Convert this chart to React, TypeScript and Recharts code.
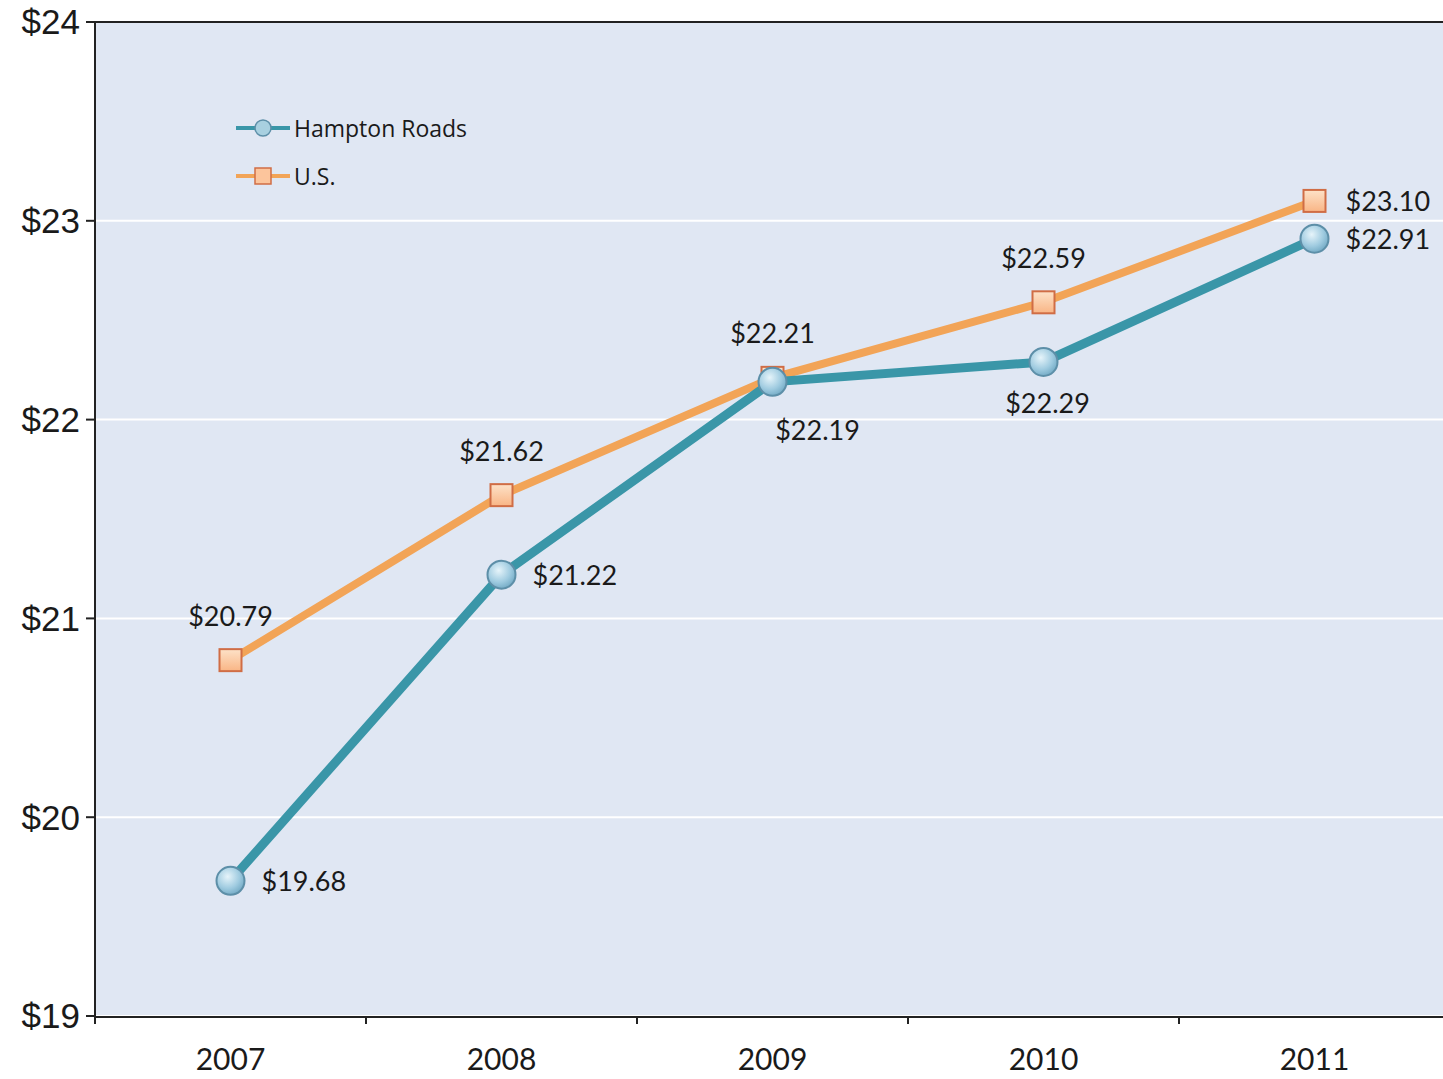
import React from "react";
import {
  LineChart,
  Line,
  XAxis,
  YAxis,
  CartesianGrid,
  Legend,
  ReferenceLine,
  LabelList,
} from "recharts";

const years = ["2007", "2008", "2009", "2010", "2011"];
const hamptonRoads = [19.68, 21.22, 22.19, 22.29, 22.91];
const us = [20.79, 21.62, 22.21, 22.59, 23.1];
const yTicks = [19, 20, 21, 22, 23, 24];

// where each value label sits relative to its point
const hamptonLabelSide = ["right", "right", "belowRight", "below", "right"];
const usLabelSide = ["above", "above", "above", "above", "right"];

// years sit in the middle of equal slots, slot edges carry the tick marks
const data = years.map((year, i) => ({
  year,
  idx: i + 0.5,
  hampton: hamptonRoads[i],
  us: us[i],
}));
const yearTicks = data.map((d) => d.idx);
const slotEdges = [0, 1, 2, 3, 4, 5];

const TEAL = "#3a96a8";
const ORANGE = "#f2a457";
const LABEL_FONT = "Lato, 'Open Sans', sans-serif";

function CircleDot(props: any) {
  const { cx, cy } = props;
  if (cx == null || cy == null) return null;
  return (
    <circle cx={cx} cy={cy} r={14} fill="url(#hrDot)" stroke="#5d8fa8" strokeWidth={2} />
  );
}

function SquareDot(props: any) {
  const { cx, cy } = props;
  if (cx == null || cy == null) return null;
  const s = 22;
  return (
    <rect
      x={cx - s / 2}
      y={cy - s / 2}
      width={s}
      height={s}
      fill="url(#usDot)"
      stroke="#d06d45"
      strokeWidth={2}
    />
  );
}

function makeLabel(sides: string[]) {
  return (props: any) => {
    const { x, y, value, index } = props;
    const side = sides[index];
    let dx = 0;
    let dy = 0;
    let anchor: "start" | "middle" = "middle";
    if (side === "right") {
      dx = 31;
      anchor = "start";
    } else if (side === "above") {
      dy = -45;
    } else if (side === "below") {
      dx = 4;
      dy = 41;
    } else if (side === "belowRight") {
      dx = 45;
      dy = 48;
    }
    return (
      <text
        x={x + dx}
        y={y + dy}
        textAnchor={anchor}
        dominantBaseline="central"
        fontFamily={LABEL_FONT}
        fontSize={27}
        fill="#1a1a1a"
      >
        {`$${Number(value).toFixed(2)}`}
      </text>
    );
  };
}

function LegendContent() {
  const rows = [
    { name: "Hampton Roads", color: TEAL, marker: "circle" },
    { name: "U.S.", color: ORANGE, marker: "square" },
  ];
  return (
    <div style={{ fontFamily: "'Open Sans', sans-serif", fontSize: 23, color: "#1a1a1a" }}>
      {rows.map((r) => (
        <div key={r.name} style={{ display: "flex", alignItems: "center", height: 48 }}>
          <svg width={58} height={24} style={{ marginRight: 2 }}>
            <line x1={2} y1={12} x2={56} y2={12} stroke={r.color} strokeWidth={4} />
            {r.marker === "circle" ? (
              <circle cx={29} cy={12} r={8} fill="#a8d0e0" stroke="#5d8fa8" strokeWidth={1.5} />
            ) : (
              <rect x={21} y={4} width={16} height={16} fill="#fcc59c" stroke="#d06d45" strokeWidth={1.5} />
            )}
          </svg>
          <span>{r.name}</span>
        </div>
      ))}
    </div>
  );
}

const NoTick = () => <g />;

export default function App() {
  return (
    <div style={{ position: "absolute", left: 0, top: 0, width: 1443, height: 1079, overflow: "hidden", background: "#fff" }}>
      <LineChart
        width={1460}
        height={1079}
        data={data}
        margin={{ top: 22, right: 10, bottom: 0, left: 0 }}
      >
        <defs>
          <radialGradient id="hrDot" cx="40%" cy="35%" r="70%">
            <stop offset="0%" stopColor="#e6f4fa" />
            <stop offset="60%" stopColor="#9fcbe0" />
            <stop offset="100%" stopColor="#6fa7c2" />
          </radialGradient>
          <linearGradient id="usDot" x1="0" y1="0" x2="0" y2="1">
            <stop offset="0%" stopColor="#fde2c8" />
            <stop offset="100%" stopColor="#f9b585" />
          </linearGradient>
        </defs>
        <CartesianGrid
          xAxisId="main"
          vertical={false}
          stroke="#ffffff"
          strokeWidth={2}
          fill="#e0e7f3"
          fillOpacity={1}
        />
        <XAxis
          xAxisId="edges"
          type="number"
          dataKey="idx"
          domain={[0, 5]}
          ticks={slotEdges}
          tick={<NoTick />}
          tickSize={8}
          tickLine={{ stroke: "#222", strokeWidth: 2 }}
          axisLine={false}
          height={1}
        />
        <XAxis
          xAxisId="main"
          type="number"
          dataKey="idx"
          domain={[0, 5]}
          ticks={yearTicks}
          tickFormatter={(v) => years[Math.floor(v)]}
          tickLine={false}
          axisLine={{ stroke: "#222", strokeWidth: 2 }}
          tick={{ fontFamily: LABEL_FONT, fontSize: 30, fill: "#1a1a1a" }}
          tickMargin={26}
          height={62}
        />
        <YAxis
          domain={[19, 24]}
          ticks={yTicks}
          width={95}
          tickSize={9}
          tickLine={{ stroke: "#222", strokeWidth: 2 }}
          axisLine={{ stroke: "#222", strokeWidth: 2 }}
          tick={{ fontFamily: "'Liberation Sans', Arial, sans-serif", fontSize: 35, fill: "#1a1a1a" }}
          tickFormatter={(v) => `$${v}`}
          tickMargin={6}
        />
        <ReferenceLine xAxisId="main" y={24} stroke="#222" strokeWidth={2} />
        <Legend
          layout="horizontal"
          verticalAlign="middle"
          align="center"
          content={<LegendContent />}
          wrapperStyle={{ left: 234, top: 104, width: "auto" }}
        />
        <Line
          xAxisId="main"
          dataKey="us"
          name="U.S."
          stroke={ORANGE}
          strokeWidth={8}
          dot={<SquareDot />}
          activeDot={false}
          isAnimationActive={false}
        >
          <LabelList dataKey="us" content={makeLabel(usLabelSide)} />
        </Line>
        <Line
          xAxisId="main"
          dataKey="hampton"
          name="Hampton Roads"
          stroke={TEAL}
          strokeWidth={9}
          dot={<CircleDot />}
          activeDot={false}
          isAnimationActive={false}
        >
          <LabelList dataKey="hampton" content={makeLabel(hamptonLabelSide)} />
        </Line>
      </LineChart>
    </div>
  );
}
